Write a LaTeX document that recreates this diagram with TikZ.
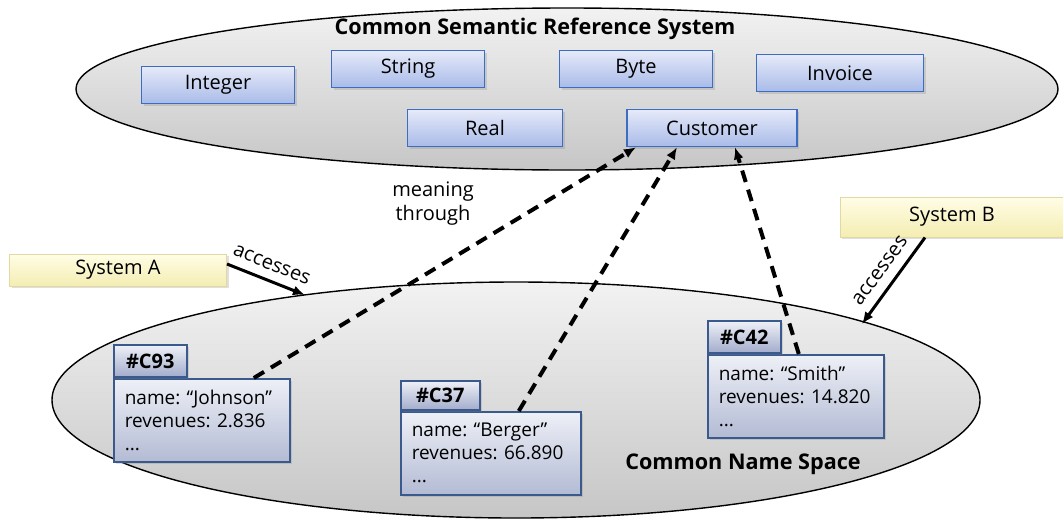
\documentclass[tikz,border=0pt]{standalone}
\usepackage{fontspec}
\setmainfont{Open Sans}
\usetikzlibrary{shadows,arrows.meta}

\definecolor{typeline}{HTML}{3D6DC0}
\definecolor{typetop}{HTML}{E6EAF9}
\definecolor{typebot}{HTML}{A9BBE9}
\definecolor{systop}{HTML}{FFFDE6}
\definecolor{sysbot}{HTML}{F4EDB2}
\definecolor{sysline}{HTML}{E2D9A2}
\definecolor{objline}{HTML}{3A5A8E}
\definecolor{objtop}{HTML}{EEF0F7}
\definecolor{objbot}{HTML}{B3BBD4}
\definecolor{tabbot}{HTML}{A2ABCB}
\definecolor{elltop}{HTML}{F2F2F2}
\definecolor{ellbot}{HTML}{C6C6C6}

\tikzset{
  softshadow/.style={drop shadow={shadow xshift=1pt,shadow yshift=-1pt,opacity=0.25}},
  typebox/.style={draw=typeline,line width=0.8pt,top color=typetop,bottom color=typebot,
    minimum width=76.5pt,minimum height=18.5pt,inner sep=0pt,softshadow},
  sysbox/.style={draw=sysline,line width=0.5pt,top color=systop,bottom color=sysbot,
    minimum height=16pt,inner sep=0pt,softshadow},
  objbody/.style={draw=objline,line width=0.8pt,top color=objtop,bottom color=objbot,
    text width=77pt,inner xsep=5.5pt,inner ysep=4pt,minimum height=41.5pt,
    align=left,font=\fontsize{9.5}{11.5}\selectfont\frenchspacing,softshadow},
  objtab/.style={draw=objline,line width=0.8pt,top color=objtop,bottom color=tabbot,
    minimum width=36.5pt,minimum height=16pt,inner sep=0pt,font=\bfseries,softshadow},
  space/.style={draw=black,line width=0.7pt,top color=elltop,bottom color=ellbot},
  meaningline/.style={line width=2pt,dash pattern=on 6pt off 4pt,->,>={Latex[length=6pt,width=5pt]}},
  accessline/.style={line width=1.5pt,->,>={Latex[length=6pt,width=5pt]}},
}

\begin{document}
\begin{tikzpicture}[x=0.5pt,y=-0.5pt]
  \useasboundingbox (0,0) rectangle (1063,520);
  % the two spaces
  \draw[space] (567,89) ellipse [x radius=491,y radius=81];
  \draw[space] (516,400) ellipse [x radius=464,y radius=118];
  \node[font=\bfseries\fontsize{10.8}{13}\selectfont] (reftitle) at (535,29) {Common Semantic Reference System};
  \node[font=\bfseries\fontsize{10.8}{13}\selectfont] (nsptitle) at (743,464) {Common Name Space};

  % semantic types
  \node[typebox] (integer) at (218,85) {Integer};
  \node[typebox] (string) at (408,69) {String};
  \node[typebox] (byte) at (636,69) {Byte};
  \node[typebox,minimum width=83.5pt] (invoice) at (840,73) {Invoice};
  \node[typebox,minimum width=77.5pt] (real) at (485,128) {Real};
  \node[typebox,minimum width=85pt] (customer) at (712,128) {Customer};

  % systems
  \node[sysbox,minimum width=108.5pt] (sysA) at (118,270) {System A};
  \node[sysbox,minimum width=112pt,minimum height=20pt] (sysB) at (952,217) {System B};

  % objects
  \node[objbody,anchor=north west] (c93) at (113,378) {name: “Johnson”\\revenues: 2.836\\...};
  \node[objtab,anchor=south west] (c93tab) at (c93.north west) {\#C93};
  \node[objbody,anchor=north west,text width=79pt] (c37) at (400,411) {name: “Berger”\\revenues: 66.890\\...};
  \node[objtab,anchor=south west,minimum width=39.5pt,minimum height=14.5pt] (c37tab) at (c37.north west) {\#C37};
  \node[objbody,anchor=north west] (c42) at (707,354) {name: “Smith”\\revenues: 14.820\\...};
  \node[objtab,anchor=south west] (c42tab) at (c42.north west) {\#C42};

  % meaning
  \node[align=center] (meaning) at (433,204) {meaning\\through};
  \draw[meaningline] ([xshift=26pt]c93.north) -- ([xshift=-38pt]customer.south);
  \draw[meaningline] ([xshift=14pt]c37.north) -- ([xshift=-17.5pt]customer.south);
  \draw[meaningline] ([xshift=1.5pt]c42.north) -- ([xshift=11.5pt]customer.south);

  % access
  \coordinate (accA) at (305,295);
  \coordinate (accB) at (862,324);
  \draw[accessline] ([yshift=3pt]sysA.east) -- (accA) node[midway,above=1pt,sloped] {accesses};
  \draw[accessline] ([xshift=-13.5pt]sysB.south) -- (accB) node[midway,above=1.5pt,sloped] {accesses};
\end{tikzpicture}
\end{document}
